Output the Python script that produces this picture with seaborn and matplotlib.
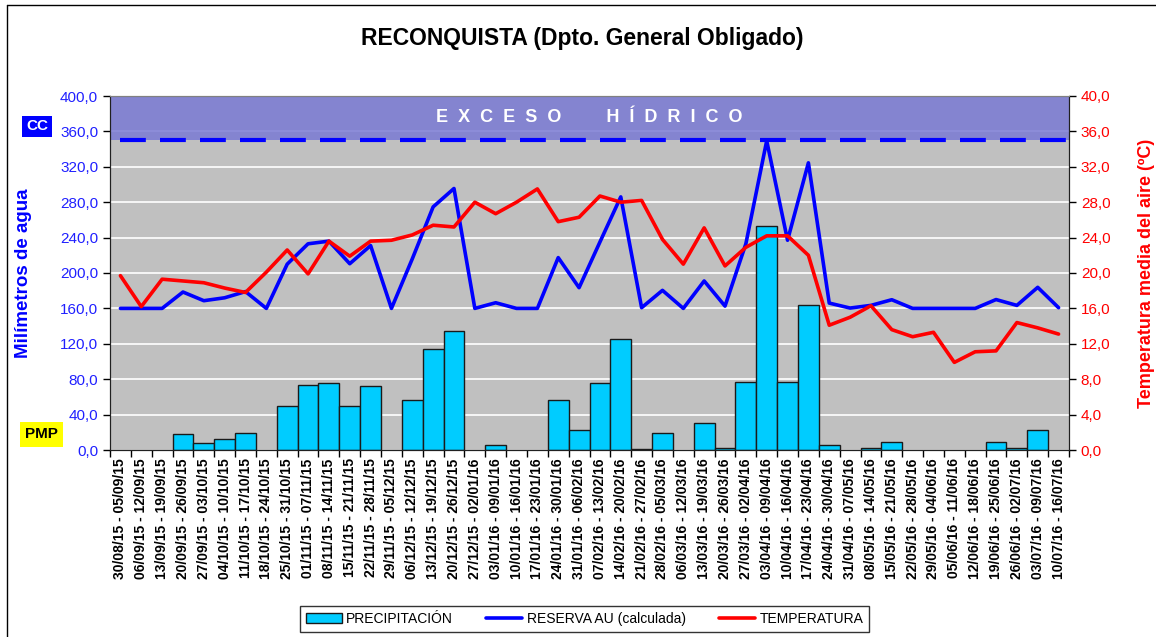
import matplotlib
matplotlib.use("Agg")
import matplotlib.pyplot as plt
from matplotlib.ticker import FixedLocator
import numpy as np
import pandas as pd
import seaborn as sns

# weekly periods
semanas = [
    "30/08/15 - 05/09/15", "06/09/15 - 12/09/15", "13/09/15 - 19/09/15",
    "20/09/15 - 26/09/15", "27/09/15 - 03/10/15", "04/10/15 - 10/10/15",
    "11/10/15 - 17/10/15", "18/10/15 - 24/10/15", "25/10/15 - 31/10/15",
    "01/11/15 - 07/11/15", "08/11/15 - 14/11/15", "15/11/15 - 21/11/15",
    "22/11/15 - 28/11/15", "29/11/15 - 05/12/15", "06/12/15 - 12/12/15",
    "13/12/15 - 19/12/15", "20/12/15 - 26/12/15", "27/12/15 - 02/01/16",
    "03/01/16 - 09/01/16", "10/01/16 - 16/01/16", "17/01/16 - 23/01/16",
    "24/01/16 - 30/01/16", "31/01/16 - 06/02/16", "07/02/16 - 13/02/16",
    "14/02/16 - 20/02/16", "21/02/16 - 27/02/16", "28/02/16 - 05/03/16",
    "06/03/16 - 12/03/16", "13/03/16 - 19/03/16", "20/03/16 - 26/03/16",
    "27/03/16 - 02/04/16", "03/04/16 - 09/04/16", "10/04/16 - 16/04/16",
    "17/04/16 - 23/04/16", "24/04/16 - 30/04/16", "31/04/16 - 07/05/16",
    "08/05/16 - 14/05/16", "15/05/16 - 21/05/16", "22/05/16 - 28/05/16",
    "29/05/16 - 04/06/16", "05/06/16 - 11/06/16", "12/06/16 - 18/06/16",
    "19/06/16 - 25/06/16", "26/06/16 - 02/07/16", "03/07/16 - 09/07/16",
    "10/07/16 - 16/07/16",
]

# precipitation (mm)
precipitacion = [
    0, 0, 0, 18, 8, 12.5, 19, 0, 50, 73, 75.5, 50,
    72, 0, 56, 114, 135, 0, 5.3, 0, 0, 56, 23, 75.5,
    125, 1.5, 19, 0, 30, 2.6, 77, 253, 77, 163.5, 5.3, 0,
    2.6, 9.4, 0, 0, 0, 0, 9.4, 2.6, 23, 0,
]

# reserva de agua util (mm)
reserva = [
    160, 160, 160, 178.5, 168.7, 172, 179, 160, 210, 233, 236, 210.5,
    231, 160, 216, 274.7, 295.5, 160, 166.4, 160, 160, 217.4, 183.4, 235,
    286, 160.8, 180.4, 160, 191, 162.6, 233, 349.4, 237, 324.5, 166, 160.4,
    163.4, 169.8, 160, 160, 160, 160, 170, 163.4, 183.8, 160.8,
]

# mean air temperature (C)
temperatura = [
    19.7, 16.2, 19.3, 19.1, 18.9, 18.3, 17.8, 20.1, 22.6, 19.9, 23.6, 21.9,
    23.6, 23.7, 24.3, 25.4, 25.2, 28.0, 26.7, 28.0, 29.5, 25.8, 26.3, 28.7,
    28.0, 28.2, 23.8, 21.0, 25.1, 20.8, 22.9, 24.2, 24.2, 22.0, 14.1, 15.0,
    16.3, 13.6, 12.8, 13.3, 9.9, 11.1, 11.2, 14.4, 13.8, 13.1,
]

cc = 350  # capacidad de campo

df = pd.DataFrame({
    "semana": np.arange(len(semanas)),
    "precipitacion": precipitacion,
    "reserva": reserva,
    "temperatura": temperatura,
})

sns.set_style("white")
plt.rcParams["font.family"] = ["Liberation Sans", "DejaVu Sans"]
plt.rcParams["text.color"] = "black"

fig = plt.figure(figsize=(11.56, 6.37), dpi=100)
ax = fig.add_axes([110 / 1156, 1 - 450 / 637, 959 / 1156, 354 / 637])
ax.set_facecolor("#c0c0c0")

sns.barplot(data=df, x="semana", y="precipitacion", ax=ax, color="#00ccff",
            edgecolor="#1a1a1a", linewidth=1, width=1.0, errorbar=None,
            saturation=1, label="PRECIPITACIÓN")
sns.lineplot(data=df, x="semana", y="reserva", ax=ax, color="#0000ff",
             linewidth=2.6, label="RESERVA AU (calculada)", legend=False)
if ax.get_legend() is not None:
    ax.get_legend().remove()

# exceso hidrico band and CC line
ax.axhspan(cc, 400, color="#7a7ad4", alpha=0.85, zorder=0.8, lw=0)
ax.axhline(cc, color="#0000ff", linewidth=3, linestyle=(7.2, (6.2, 3.4)), zorder=3)
ax.text(0.5, 376, "E  X  C  E  S  O         H  Í  D  R  I  C  O",
        transform=ax.get_yaxis_transform(), ha="center", va="center",
        color="white", fontsize=13, fontweight="bold", zorder=4)

ax.set_ylim(0, 400)
ax.set_xlim(-0.5, len(semanas) - 0.5)
yt = np.arange(0, 401, 40)
ax.set_yticks(yt)
ax.set_yticklabels([f"{v:.1f}".replace(".", ",") for v in yt])
ax.yaxis.grid(True, color="white", linewidth=1.2)
ax.set_axisbelow(True)
ax.tick_params(axis="y", labelcolor="#2020ff", labelsize=11, length=5, width=1,
               color="black", direction="out", left=True)
ax.set_xticks(range(len(semanas)))
ax.set_xticklabels(semanas, rotation=90, fontsize=10, fontweight="bold",
                   color="black")
ax.tick_params(axis="x", which="major", length=0, pad=6)
ax.xaxis.set_minor_locator(FixedLocator(np.arange(-0.5, len(semanas), 1)))
ax.tick_params(axis="x", which="minor", length=5, width=1, color="black",
               bottom=True)
ax.set_xlabel("")
ax.set_ylabel("Milímetros de agua", color="#0000ff", fontsize=13.5,
              fontweight="bold")
ax.yaxis.set_label_coords(-0.081, 0.5)

ax2 = ax.twinx()
sns.lineplot(data=df, x="semana", y="temperatura", ax=ax2, color="#ff0000",
             linewidth=2.6, label="TEMPERATURA", legend=False)
ax2.set_ylim(0, 40)
yt2 = np.arange(0, 41, 4)
ax2.set_yticks(yt2)
ax2.set_yticklabels([f"{v:.1f}".replace(".", ",") for v in yt2])
ax2.tick_params(axis="y", labelcolor="#ff0000", labelsize=11, length=5,
                width=1, color="black", direction="out")
ax2.set_ylabel("Temperatura media del aire (ºC)", color="#ff0000",
               fontsize=13, fontweight="bold")
ax2.yaxis.set_label_coords(1.072, 0.5)

for a in (ax, ax2):
    a.spines["left"].set_color("#202020")
    a.spines["right"].set_color("#202020")
    a.spines["bottom"].set_color("#202020")
    a.spines["top"].set_color("#808080")

fig.suptitle("RECONQUISTA (Dpto. General Obligado)", x=582 / 1156,
             y=1 - 39 / 637, va="center", fontsize=16.5, fontweight="bold",
             color="black")

# CC and PMP tags
fig.text(37 / 1156, 1 - 126.5 / 637, "CC", color="white", fontsize=11,
         fontweight="bold", ha="center", va="center",
         bbox=dict(facecolor="#0000ff", edgecolor="none", pad=2.5))
fig.text(41.5 / 1156, 1 - 434.5 / 637, "PMP", color="black", fontsize=11,
         fontweight="bold", ha="center", va="center",
         bbox=dict(facecolor="#ffff00", edgecolor="none", pad=4))

# outer frame (left and top edges visible)
fig.add_artist(plt.Line2D([7 / 1156, 7 / 1156], [0, 1 - 5 / 637],
                          color="black", linewidth=1, transform=fig.transFigure))
fig.add_artist(plt.Line2D([7 / 1156, 1], [1 - 5 / 637, 1 - 5 / 637],
                          color="black", linewidth=1, transform=fig.transFigure))

h1, l1 = ax.get_legend_handles_labels()
h2, l2 = ax2.get_legend_handles_labels()
handles = dict(zip(l1 + l2, h1 + h2))
orden = ["PRECIPITACIÓN", "RESERVA AU (calculada)", "TEMPERATURA"]
leg = fig.legend([handles[k] for k in orden], orden, loc="center", ncol=3,
                 bbox_to_anchor=(584.5 / 1156, 18 / 637), fontsize=10,
                 frameon=True, fancybox=False, edgecolor="black",
                 handlelength=2.6, columnspacing=2.4, borderpad=0.4,
                 handletextpad=0.3)
leg.get_frame().set_linewidth(1)

fig.savefig("out.png", dpi=100)
